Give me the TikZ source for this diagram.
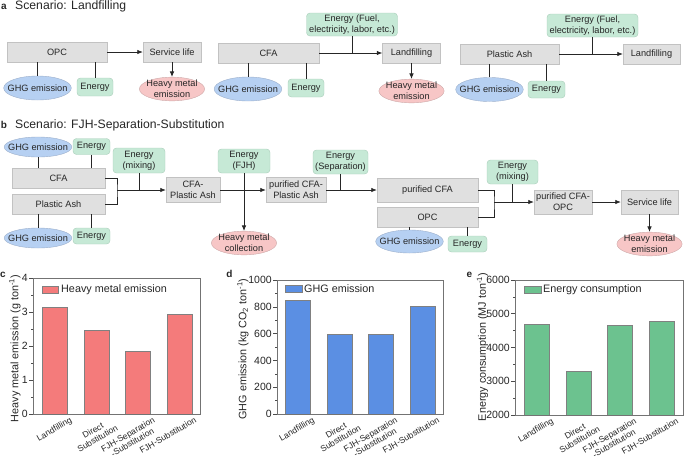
\documentclass[tikz,border=0pt]{standalone}
\usepackage{fontspec}
\setmainfont{Liberation Sans}
\usetikzlibrary{arrows.meta,positioning,shapes.geometric}
\definecolor{boxg}{HTML}{E0E0E0}
\definecolor{boxe}{HTML}{C2C2C2}
\definecolor{eng}{HTML}{C6E9D6}
\definecolor{enge}{HTML}{A8CDB9}
\definecolor{ghgb}{HTML}{B6D0F2}
\definecolor{ghge}{HTML}{9CAFCB}
\definecolor{hmp}{HTML}{F7C6C6}
\definecolor{hme}{HTML}{CDA9A9}
\definecolor{redbar}{HTML}{F47B7B}
\definecolor{bluebar}{HTML}{5B8FE3}
\definecolor{greenbar}{HTML}{6CC28F}
\definecolor{ink}{HTML}{262626}
\newcommand{\ttlfont}{\fontsize{12.2}{14}\selectfont}
\newcommand{\diafont}{\fontsize{9.2}{11}\selectfont}
\newcommand{\legfont}{\fontsize{10.8}{12}\selectfont}

\begin{document}
\begin{tikzpicture}[x=1pt,y=-1pt,font=\diafont,text=ink,
procbox/.style={draw=boxe,fill=boxg,minimum height=20pt,inner sep=1.5pt,align=center},
enbox/.style={draw=enge,fill=eng,rounded corners=3.5pt,inner sep=1.5pt,align=center},
ghgnode/.style={ellipse,draw=ghge,fill=ghgb,inner xsep=-6pt,inner ysep=0pt,minimum height=24pt},
hmnode/.style={ellipse,draw=hme,fill=hmp,inner xsep=-2.5pt,inner ysep=-0.5pt,align=center},
link/.style={draw=ink,line width=0.75pt},
flow/.style={link,-{Latex[length=5.5pt,width=4.5pt]}},
axframe/.style={draw=black!55,line width=0.6pt},
axtick/.style={draw=black!70,line width=0.6pt},
ticklab/.style={anchor=east,font=\fontsize{10.5}{12}\selectfont,inner sep=1pt},
xlab/.style={anchor=north east,rotate=30,align=center,font=\fontsize{8.6}{9.2}\selectfont,inner sep=0.3pt},
ylab/.style={rotate=90,font=\legfont,inner sep=0pt},
legtext/.style={anchor=west,font=\legfont,inner sep=1pt},
panlab/.style={font=\bfseries\fontsize{10}{12}\selectfont,inner sep=0pt},
barbox/.style={draw=black!50,line width=0.5pt}]
\useasboundingbox (0,0) rectangle (685,461);

% a: landfilling
\node[panlab,anchor=base] (la) at (4,9.5) {a};
\node[anchor=base west,font=\ttlfont,inner sep=1pt] (ta) at (14,9.5) {Scenario: Landfilling};
\node[procbox,minimum width=100pt] (opcA) at (57,52) {OPC};
\node[procbox,minimum width=58pt] (slA) at (172,52) {Service life};
\node[ghgnode] (ghgA) at (37.5,88) {GHG emission};
\node[enbox,minimum width=36pt,minimum height=18pt] (enA) at (95,87) {Energy};
\node[hmnode] (hmA) at (172,89) {Heavy metal\\emission};
\draw[flow] (opcA) -- (slA);
\draw[flow] (slA) -- (hmA);
\draw[link] (ghgA.north) -- (ghgA.north |- opcA.south);
\draw[link] (enA.north) -- (enA.north |- opcA.south);

\node[procbox,minimum width=101pt] (cfaA) at (268.5,53) {CFA};
\node[enbox,minimum width=91pt,minimum height=23pt] (fuelC) at (352,24.5) {Energy (Fuel,\\electricity, labor, etc.)};
\node[procbox,minimum width=58pt] (lfC) at (411.5,53) {Landfilling};
\node[ghgnode] (ghgC) at (248,89) {GHG emission};
\node[enbox,minimum width=36pt,minimum height=18pt] (enC) at (306,88) {Energy};
\node[hmnode] (hmC) at (411.5,91) {Heavy metal\\emission};
\draw[flow] (cfaA) -- (lfC);
\draw[link] (fuelC) -- (fuelC.south |- cfaA.east);
\draw[flow] (lfC) -- (hmC);
\draw[link] (ghgC.north) -- (ghgC.north |- cfaA.south);
\draw[link] (enC.north) -- (enC.north |- cfaA.south);

\node[procbox,minimum width=99pt] (paA) at (509.5,54) {Plastic Ash};
\node[enbox,minimum width=91pt,minimum height=23pt] (fuelP) at (592.5,25.5) {Energy (Fuel,\\electricity, labor, etc.)};
\node[procbox,minimum width=57pt] (lfP) at (651.5,54) {Landfilling};
\node[ghgnode] (ghgP) at (489.5,89.5) {GHG emission};
\node[enbox,minimum width=37pt,minimum height=17pt] (enP) at (546.5,89.5) {Energy};
\draw[flow] (paA) -- (lfP);
\draw[link] (fuelP) -- (fuelP.south |- paA.east);
\draw[link] (ghgP.north) -- (ghgP.north |- paA.south);
\draw[link] (enP.north) -- (enP.north |- paA.south);

% b: FJH-separation-substitution
\node[panlab,anchor=base] (lb) at (4,128) {b};
\node[anchor=base west,font=\ttlfont,inner sep=1pt] (tb) at (14,128) {Scenario: FJH-Separation-Substitution};
\node[ghgnode,minimum height=20pt] (ghgB1) at (38,147) {GHG emission};
\node[enbox,minimum width=37pt,minimum height=16pt] (enB1) at (91.5,146.5) {Energy};
\node[procbox,minimum width=93pt] (cfaB) at (58.5,178) {CFA};
\node[procbox,minimum width=93pt] (paB) at (58.5,204) {Plastic Ash};
\node[ghgnode,minimum height=20pt] (ghgB2) at (38,238) {GHG emission};
\node[enbox,minimum width=37pt,minimum height=16pt] (enB2) at (91.5,236) {Energy};
\node[enbox,minimum width=52pt,minimum height=25pt] (mixB1) at (139,160.5) {Energy\\(mixing)};
\node[procbox,minimum width=54pt,minimum height=25pt] (cpaB) at (193,190) {CFA-\\Plastic Ash};
\node[enbox,minimum width=52pt,minimum height=24pt] (fjhB) at (244,161) {Energy\\(FJH)};
\node[hmnode] (hmcB) at (244,243) {Heavy metal\\collection};
\node[procbox,minimum width=60pt,minimum height=25pt] (pcpaB) at (296,190) {purified CFA-\\Plastic Ash};
\node[enbox,minimum width=55pt,minimum height=24pt] (sepB) at (340.5,162) {Energy\\(Separation)};
\node[procbox,minimum width=101pt,minimum height=24pt] (pcfaB) at (427.5,190) {purified CFA};
\node[procbox,minimum width=101pt] (opcB) at (427.5,217) {OPC};
\node[ghgnode,minimum height=23pt] (ghgB3) at (409.5,241.5) {GHG emission};
\node[enbox,minimum width=39pt,minimum height=16pt] (enB3) at (467.5,244) {Energy};
\node[enbox,minimum width=51pt,minimum height=24pt] (mixB2) at (512.5,172) {Energy\\(mixing)};
\node[procbox,minimum width=58pt,minimum height=24pt] (pcfoB) at (563,202) {purified CFA-\\OPC};
\node[procbox,minimum width=57pt,minimum height=24pt] (slB) at (649.5,202) {Service life};
\node[hmnode] (hmB) at (649.5,244) {Heavy metal\\emission};
\coordinate (jnA) at (117,190);
\coordinate (jnB) at (494,202);
\draw[link] (ghgB1.south) -- (ghgB1.south |- cfaB.north);
\draw[link] (enB1.south) -- (enB1.south |- cfaB.north);
\draw[link] (ghgB2.north) -- (ghgB2.north |- paB.south);
\draw[link] (enB2.north) -- (enB2.north |- paB.south);
\draw[link] (cfaB.east) -| (jnA) |- (paB.east);
\draw[link] (mixB1) -- (mixB1.south |- jnA);
\draw[flow] (jnA) -- (cpaB);
\draw[flow] (cpaB) -- (pcpaB);
\draw[flow] (fjhB) -- (hmcB);
\draw[flow] (pcpaB) -- (pcfaB);
\draw[link] (sepB) -- (sepB.south |- pcfaB.west);
\draw[link] (pcfaB.east) -| (jnB) |- (opcB.east);
\draw[link] (mixB2) -- (mixB2.south |- jnB);
\draw[flow] (jnB) -- (pcfoB);
\draw[flow] (pcfoB) -- (slB);
\draw[flow] (slB) -- (hmB);
\draw[link] (ghgB3.north) -- (ghgB3.north |- opcB.south);
\draw[link] (enB3.north) -- (enB3.north |- opcB.south);

% c: heavy metal emission
\node[panlab,anchor=base] (lc) at (3,277) {c};
\foreach \x/\v in {55/3.13,96.5/2.46,138/1.85,179.5/2.93}
  \draw[barbox,fill=redbar] (\x-12.5,414) rectangle (\x+12.5,414-34*\v);
\draw[axframe] (33,278) rectangle (200,414);
\foreach \v in {0,...,4} \draw[axtick] (33,414-34*\v) -- ++(-4,0) node[ticklab] (cy\v) {\v};
\foreach \v in {0.5,1.5,2.5,3.5} \draw[axtick] (33,414-34*\v) -- ++(-2.5,0);
\foreach \x/\t [count=\i] in {55/Landfilling,96.5/{Direct\\Substitution},138/{FJH-Separation\\-Substitution},179.5/FJH-Substitution}
  \node[xlab] (cx\i) at (\x+14.5,416) {\t};
\draw[barbox,fill=redbar] (42,286) rectangle (58,293);
\node[legtext] (cleg) at (60,289.5) {Heavy metal emission};
\node[ylab] (cyl) at (15,348.5) {Heavy metal emission (g ton\textsuperscript{-1})};

% d: GHG emission
\node[panlab,anchor=base] (ld) at (229.5,277) {d};
\foreach \x/\v in {297.5/851,339.5/597,380.5/597,422.5/806}
  \draw[barbox,fill=bluebar] (\x-12.5,414) rectangle (\x+12.5,414-0.134*\v);
\draw[axframe] (277,280) rectangle (443,414);
\foreach \v in {0,200,...,1000} \draw[axtick] (277,414-0.134*\v) -- ++(-4,0) node[ticklab] (dy\v) {\v};
\foreach \v in {100,300,...,900} \draw[axtick] (277,414-0.134*\v) -- ++(-2.5,0);
\foreach \x/\t [count=\i] in {297.5/Landfilling,339.5/{Direct\\Substitution},380.5/{FJH-Separation\\-Substitution},422.5/FJH-Substitution}
  \node[xlab] (dx\i) at (\x+14.5,416) {\t};
\draw[barbox,fill=bluebar] (285,285) rectangle (302,292);
\node[legtext] (dleg) at (303,288.5) {GHG emission};
\node[ylab] (dyl) at (243,349) {GHG emission (kg CO\textsubscript{2} ton\textsuperscript{-1})};

% e: energy consumption
\node[panlab,anchor=base] (le) at (469.5,277) {e};
\foreach \x/\v in {536.5/4700,578.5/3300,619.5/4670,661.5/4790}
  \draw[barbox,fill=greenbar] (\x-12.5,415) rectangle (\x+12.5,415-0.03375*\v+67.5);
\draw[axframe] (515,280) rectangle (683,415);
\foreach \v in {2000,3000,...,6000} \draw[axtick] (515,415-0.03375*\v+67.5) -- ++(-4,0) node[ticklab] (ey\v) {\v};
\foreach \v in {2500,3500,...,5500} \draw[axtick] (515,415-0.03375*\v+67.5) -- ++(-2.5,0);
\foreach \x/\t [count=\i] in {536.5/Landfilling,578.5/{Direct\\Substitution},619.5/{FJH-Separation\\-Substitution},661.5/FJH-Substitution}
  \node[xlab] (ex\i) at (\x+14.5,417) {\t};
\draw[barbox,fill=greenbar] (524,286) rectangle (541,293);
\node[legtext] (eleg) at (542,289.5) {Energy consumption};
\node[ylab] (eyl) at (482.5,347) {Energy consumption (MJ ton\textsuperscript{-1})};
\end{tikzpicture}
\end{document}
